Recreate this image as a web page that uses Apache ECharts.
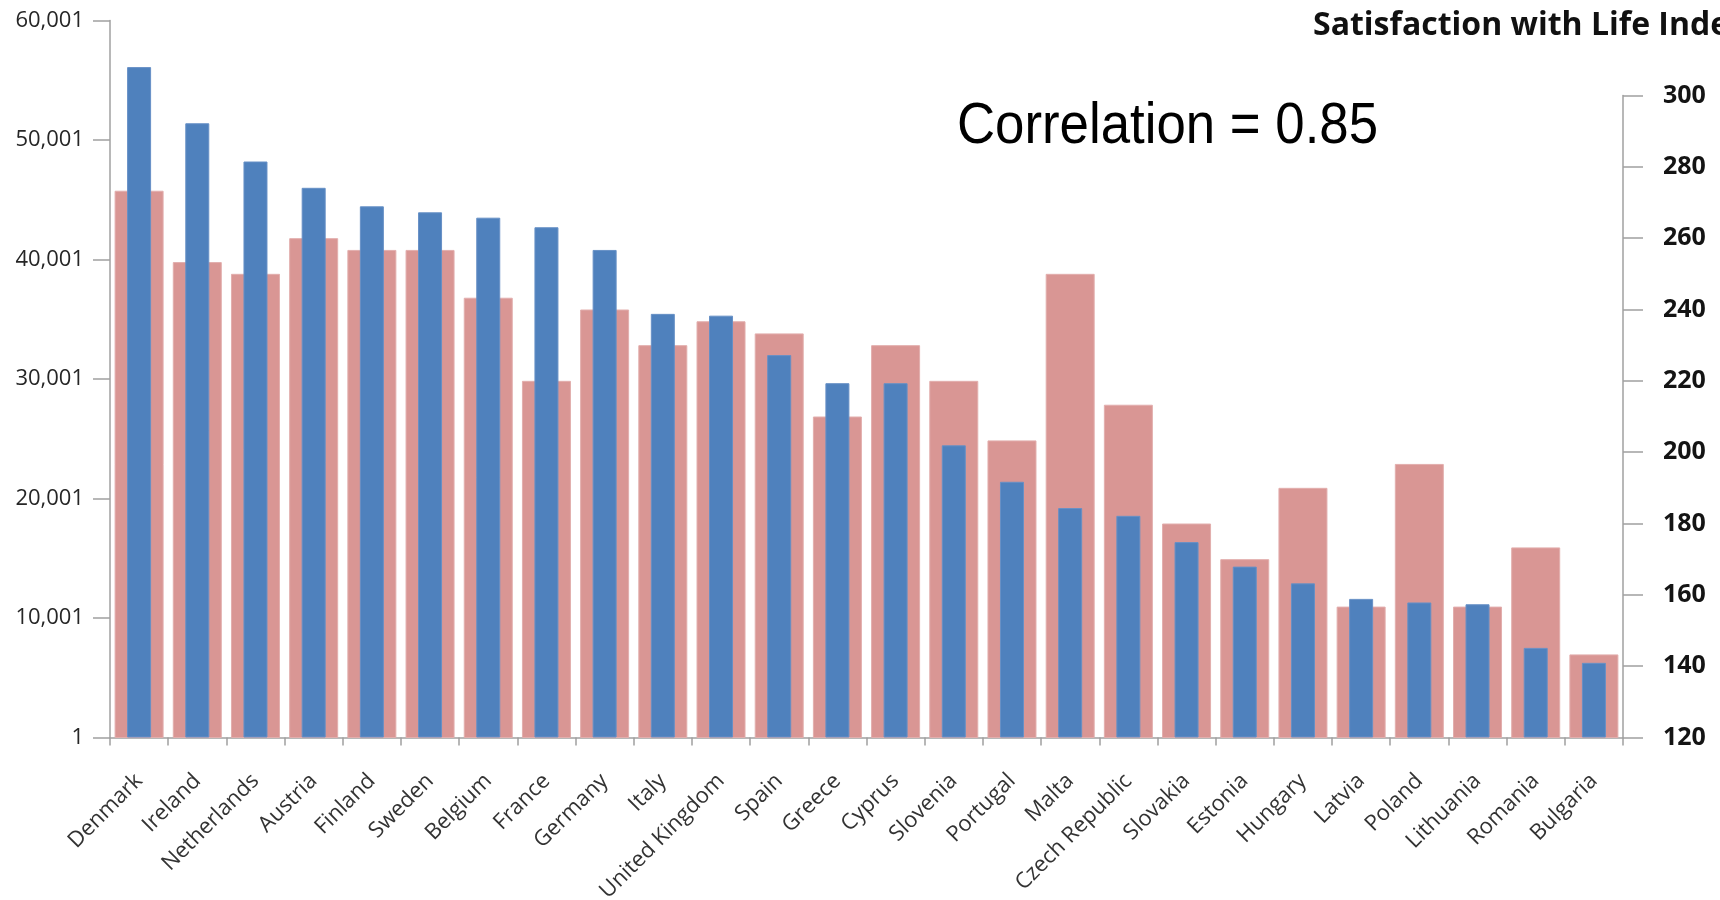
<!DOCTYPE html>
<html>
<head>
<meta charset="utf-8">
<title>GDP per capita and Satisfaction with Life Index</title>
<script src="https://cdn.jsdelivr.net/npm/echarts@6/dist/echarts.min.js"></script>
<style>
  html, body { margin: 0; padding: 0; background: #ffffff; }
  #chart { width: 1720px; height: 900px; }
</style>
</head>
<body>
<div id="chart"></div>
<script>
// Countries, ordered by GDP per capita
const countries = [
  'Denmark', 'Ireland', 'Netherlands', 'Austria', 'Finland', 'Sweden',
  'Belgium', 'France', 'Germany', 'Italy', 'United Kingdom', 'Spain',
  'Greece', 'Cyprus', 'Slovenia', 'Portugal', 'Malta', 'Czech Republic',
  'Slovakia', 'Estonia', 'Hungary', 'Latvia', 'Poland', 'Lithuania',
  'Romania', 'Bulgaria'
];

// GDP per capita (left axis)
const gdpPerCapita = [
  56100, 51400, 48200, 46000, 44450, 43950,
  43500, 42700, 40800, 35450, 35300, 32000,
  29650, 29650, 24450, 21400, 19200, 18550,
  16350, 14300, 12900, 11600, 11300, 11150,
  7500, 6250
];

// Satisfaction with Life Index (right axis)
const lifeSatisfaction = [
  273.3, 253.3, 250, 260, 256.7, 256.7,
  243.3, 220, 240, 230, 236.7, 233.3,
  210, 230, 220, 203.3, 250, 213.3,
  180, 170, 190, 156.7, 196.7, 156.7,
  173.3, 143.3
];

// Tick labels of the left axis (one per 10,000 step)
const gdpTickLabels = ['1', '10,001', '20,001', '30,001', '40,001', '50,001', '60,001'];

const correlationText = 'Correlation = 0.85';
const rightAxisTitle = 'Satisfaction with Life Index';

const chart = echarts.init(document.getElementById('chart'), null, { renderer: 'canvas' });

const axisGray = '#a0a0a0';
const plotLeft = 110, plotRight = 97, plotBottom = 162.5;

chart.setOption({
  animation: false,
  backgroundColor: '#ffffff',
  grid: [
    { left: plotLeft, right: plotRight, top: 20.5, bottom: plotBottom, containLabel: false, outerBoundsMode: 'none' },
    { left: plotLeft, right: plotRight, top: 95.5, bottom: plotBottom, containLabel: false, outerBoundsMode: 'none' }
  ],
  xAxis: [
    {
      type: 'category',
      gridIndex: 0,
      data: countries,
      boundaryGap: true,
      axisLine: { show: true, onZero: false, lineStyle: { color: axisGray, width: 1.5 } },
      axisTick: { show: true, length: 8, alignWithLabel: false, lineStyle: { color: axisGray, width: 1.5 } },
      axisLabel: {
        interval: 0,
        rotate: 45,
        margin: 40,
        fontFamily: 'Open Sans',
        fontSize: 22,
        color: '#333333'
      },
      splitLine: { show: false }
    },
    {
      type: 'category',
      gridIndex: 1,
      data: countries,
      show: false
    }
  ],
  yAxis: [
    {
      type: 'value',
      gridIndex: 0,
      position: 'left',
      min: 0,
      max: 60000,
      interval: 10000,
      axisLine: { show: true, lineStyle: { color: axisGray, width: 1.5 } },
      axisTick: { show: true, length: 17, lineStyle: { color: axisGray, width: 1.5 } },
      splitLine: { show: false },
      axisLabel: {
        margin: 26,
        fontFamily: 'Open Sans',
        fontSize: 22,
        color: '#262626',
        formatter: v => gdpTickLabels[Math.round(v / 10000)]
      }
    },
    {
      type: 'value',
      gridIndex: 1,
      position: 'right',
      min: 120,
      max: 300,
      interval: 20,
      axisLine: { show: true, lineStyle: { color: axisGray, width: 1.5 } },
      axisTick: { show: true, length: 20, lineStyle: { color: axisGray, width: 1.5 } },
      splitLine: { show: false },
      axisLabel: {
        margin: 40,
        fontFamily: 'Open Sans',
        fontWeight: 'bold',
        fontSize: 25,
        color: '#141414'
      }
    }
  ],
  series: [
    {
      name: rightAxisTitle,
      type: 'bar',
      xAxisIndex: 1,
      yAxisIndex: 1,
      data: lifeSatisfaction,
      barWidth: 49,
      z: 2,
      itemStyle: { color: '#D99694', borderColor: '#E2AEAD', borderWidth: 1 }
    },
    {
      name: 'GDP per capita',
      type: 'bar',
      xAxisIndex: 0,
      yAxisIndex: 0,
      data: gdpPerCapita,
      barWidth: 24,
      z: 3,
      itemStyle: { color: '#4F81BD', borderColor: '#6790C6', borderWidth: 1 }
    }
  ],
  graphic: [
    {
      type: 'text',
      x: 1313,
      y: 26,
      z: 10,
      style: {
        text: rightAxisTitle,
        fontFamily: 'Open Sans',
        fontWeight: 'bold',
        fontSize: 32,
        fill: '#111111',
        verticalAlign: 'middle',
        align: 'left'
      }
    },
    {
      type: 'text',
      x: 957,
      y: 127,
      scaleX: 0.91,
      z: 10,
      style: {
        text: correlationText,
        fontFamily: 'Liberation Sans',
        fontSize: 58,
        fill: '#000000',
        verticalAlign: 'middle',
        align: 'left'
      }
    }
  ]
});
</script>
</body>
</html>
